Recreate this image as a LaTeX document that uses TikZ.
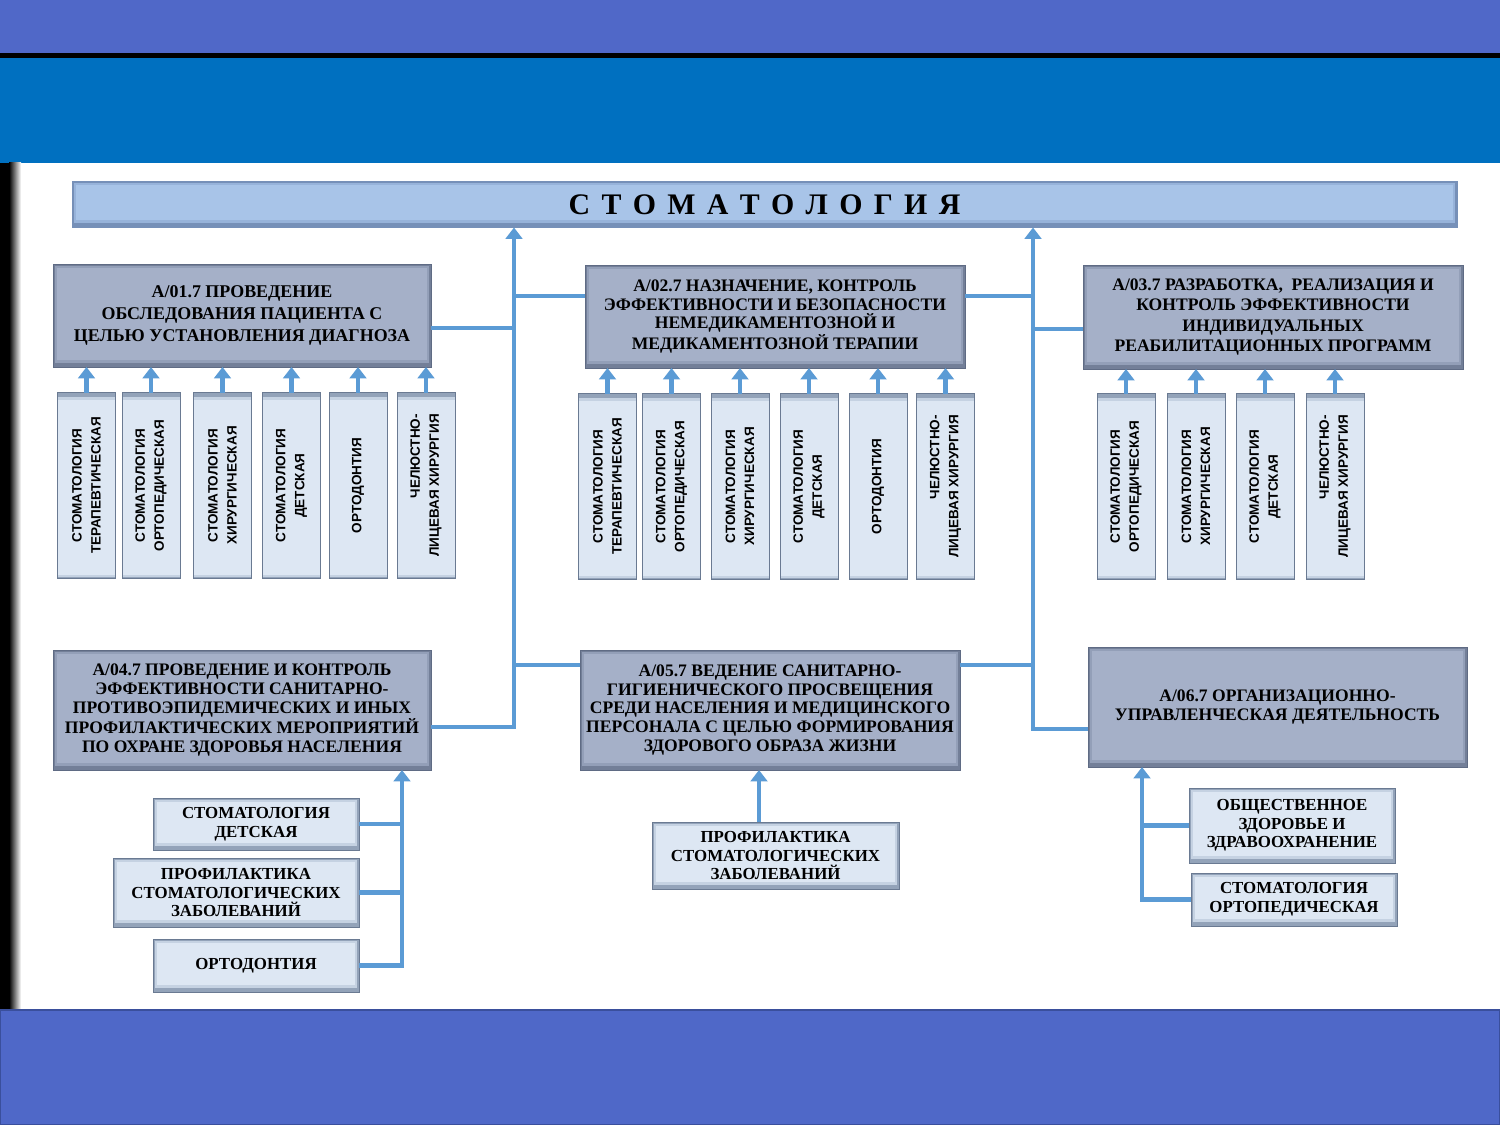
\documentclass[tikz,border=0pt]{standalone}
\usepackage{fontspec}
\setmainfont{Liberation Serif}
\newfontfamily\vsans{Liberation Sans}
\usetikzlibrary{arrows.meta,calc}
\definecolor{topband}{HTML}{5068C8}
\definecolor{blueband}{HTML}{0070C0}
\definecolor{botband}{HTML}{4F68C8}
\definecolor{botedge}{HTML}{3A4F9C}
\definecolor{connc}{HTML}{5B9BD5}
\definecolor{pmain}{HTML}{A5B0C8}
\definecolor{pmid}{HTML}{939FB8}
\definecolor{pout}{HTML}{737F98}
\definecolor{pedge}{HTML}{5F6B84}
\definecolor{cmain}{HTML}{DDE7F3}
\definecolor{cmid}{HTML}{C5D2E2}
\definecolor{cout}{HTML}{93A3B9}
\definecolor{cedge}{HTML}{6A7A92}
\definecolor{tmain}{HTML}{A8C4E8}
\definecolor{tmid}{HTML}{97B3DA}
\definecolor{tout}{HTML}{7690B8}
\newcommand\mybevel[3]{%
  \fill[#1] (path picture bounding box.south west) rectangle (path picture bounding box.north east);
  \fill[#2] ([shift={(1pt,2.5pt)}]path picture bounding box.south west) rectangle ([shift={(-1pt,-1pt)}]path picture bounding box.north east);
  \fill[#3] ([shift={(2.2pt,4.2pt)}]path picture bounding box.south west) rectangle ([shift={(-2.2pt,-2.2pt)}]path picture bounding box.north east);
}
\newcommand\mybevelv[3]{%
  \fill[#1] (path picture bounding box.south west) rectangle (path picture bounding box.north east);
  \fill[#2] ([shift={(1pt,1pt)}]path picture bounding box.south west) rectangle ([shift={(-2.5pt,-1pt)}]path picture bounding box.north east);
  \fill[#3] ([shift={(2.2pt,2.2pt)}]path picture bounding box.south west) rectangle ([shift={(-4.2pt,-2.2pt)}]path picture bounding box.north east);
}
\newcommand\ls{\hspace{0.38em}}
\begin{document}
\begin{tikzpicture}[x=0.02cm,y=-0.02cm,
  conn/.style={draw=connc, line width=2.7pt},
  arr/.style={conn, -{Triangle[width=9.5pt,length=6.5pt]}},
  sz/.style 2 args={minimum width=#1*0.02cm, minimum height=#2*0.02cm},
  pbox/.style={inner sep=0pt, outer sep=0pt, draw=pedge, line width=0.5pt, align=center,
    font=\bfseries\fontsize{10}{10.6}\selectfont, path picture={\mybevel{pout}{pmid}{pmain}}},
  cbox/.style={inner sep=0pt, outer sep=0pt, draw=cedge, line width=0.5pt, align=center,
    font=\bfseries\fontsize{9.6}{10.6}\selectfont, path picture={\mybevel{cout}{cmid}{cmain}}},
  vbox/.style={inner sep=0pt, outer sep=0pt, draw=cedge, line width=0.5pt, align=center,
    rotate=90, sz={186}{58},
    font=\vsans\bfseries\fontsize{7.7}{10.8}\selectfont, path picture={\mybevelv{cout}{cmid}{cmain}}},
  tbar/.style={inner sep=0pt, outer sep=0pt, draw=tout, line width=0.5pt,
    font=\bfseries\fontsize{17}{20}\selectfont, path picture={\mybevel{tout}{tmid}{tmain}}}
]
\useasboundingbox (0,0) rectangle (1500,1125);
\fill[white] (0,0) rectangle (1500,1125);
% bands
\fill[topband] (0,0) rectangle (1500,54);
\fill[black] (0,53) rectangle (1500,58);
\fill[blueband] (0,58) rectangle (1500,163);
\fill[black] (0,163) rectangle (9,1010);
\shade[left color=black,right color=white] (9,163) rectangle (21,1010);
\fill[botband, draw=botedge, line width=1.5pt] (0,1010) rectangle (1500,1125);

% title
\node[tbar, sz={1385}{46}] (title) at (764.5,204.5) {С\ls Т\ls О\ls М\ls А\ls Т\ls О\ls Л\ls О\ls Г\ls И\ls Я};

% main boxes
\node[pbox, sz={378}{103}, font=\bfseries\fontsize{10.2}{12.5}\selectfont] (a1) at (242,315.5)
  {A/01.7 ПРОВЕДЕНИЕ\\ОБСЛЕДОВАНИЯ ПАЦИЕНТА С\\ЦЕЛЬЮ УСТАНОВЛЕНИЯ ДИАГНОЗА};
\node[pbox, sz={380}{103}] (a2) at (775,316.5)
  {A/02.7 НАЗНАЧЕНИЕ, КОНТРОЛЬ\\ЭФФЕКТИВНОСТИ И БЕЗОПАСНОСТИ\\НЕМЕДИКАМЕНТОЗНОЙ И\\МЕДИКАМЕНТОЗНОЙ ТЕРАПИИ};
\node[pbox, sz={380}{104}, font=\bfseries\fontsize{10}{11.5}\selectfont] (a3) at (1273,317)
  {A/03.7 РАЗРАБОТКА,\ \ РЕАЛИЗАЦИЯ И\\КОНТРОЛЬ ЭФФЕКТИВНОСТИ\\ИНДИВИДУАЛЬНЫХ\\РЕАБИЛИТАЦИОННЫХ ПРОГРАММ};
\node[pbox, sz={378}{120}] (a4) at (242,710)
  {A/04.7 ПРОВЕДЕНИЕ И КОНТРОЛЬ\\ЭФФЕКТИВНОСТИ САНИТАРНО-\\ПРОТИВОЭПИДЕМИЧЕСКИХ И ИНЫХ\\ПРОФИЛАКТИЧЕСКИХ МЕРОПРИЯТИЙ\\ПО ОХРАНЕ ЗДОРОВЬЯ НАСЕЛЕНИЯ};
\node[pbox, sz={380}{120}] (a5) at (770,710)
  {A/05.7 ВЕДЕНИЕ САНИТАРНО-\\ГИГИЕНИЧЕСКОГО ПРОСВЕЩЕНИЯ\\СРЕДИ НАСЕЛЕНИЯ И МЕДИЦИНСКОГО\\ПЕРСОНАЛА С ЦЕЛЬЮ ФОРМИРОВАНИЯ\\ЗДОРОВОГО ОБРАЗА ЖИЗНИ};
\node[pbox, sz={379}{120}] (a6) at (1277.5,707)
  {A/06.7 ОРГАНИЗАЦИОННО-\\УПРАВЛЕНЧЕСКАЯ ДЕЯТЕЛЬНОСТЬ};

% vertical children of A/01.7
\node[vbox] (c11) at (86.5,485.5) {СТОМАТОЛОГИЯ\\ТЕРАПЕВТИЧЕСКАЯ};
\node[vbox] (c12) at (151,485.5) {СТОМАТОЛОГИЯ\\ОРТОПЕДИЧЕСКАЯ};
\node[vbox] (c13) at (222.5,485.5) {СТОМАТОЛОГИЯ\\ХИРУРГИЧЕСКАЯ};
\node[vbox] (c14) at (291.5,485.5) {СТОМАТОЛОГИЯ\\ДЕТСКАЯ};
\node[vbox] (c15) at (358,485.5) {ОРТОДОНТИЯ};
\node[vbox, align=right] (c16) at (426,485.5) {ЧЕЛЮСТНО-\\ЛИЦЕВАЯ ХИРУРГИЯ};
\foreach \c in {c11,c12,c13,c14,c15,c16}
  \draw[arr] (\c.east) -- (\c.east |- a1.south);

% vertical children of A/02.7
\node[vbox] (c21) at (607.5,486.5) {СТОМАТОЛОГИЯ\\ТЕРАПЕВТИЧЕСКАЯ};
\node[vbox] (c22) at (671.5,486.5) {СТОМАТОЛОГИЯ\\ОРТОПЕДИЧЕСКАЯ};
\node[vbox] (c23) at (740,486.5) {СТОМАТОЛОГИЯ\\ХИРУРГИЧЕСКАЯ};
\node[vbox] (c24) at (809,486.5) {СТОМАТОЛОГИЯ\\ДЕТСКАЯ};
\node[vbox] (c25) at (878,486.5) {ОРТОДОНТИЯ};
\node[vbox, align=right] (c26) at (945.5,486.5) {ЧЕЛЮСТНО-\\ЛИЦЕВАЯ ХИРУРГИЯ};
\foreach \c in {c21,c22,c23,c24,c25,c26}
  \draw[arr] (\c.east) -- (\c.east |- a2.south);

% vertical children of A/03.7
\node[vbox] (c31) at (1126,486.5) {СТОМАТОЛОГИЯ\\ОРТОПЕДИЧЕСКАЯ};
\node[vbox] (c32) at (1196,486.5) {СТОМАТОЛОГИЯ\\ХИРУРГИЧЕСКАЯ};
\node[vbox] (c33) at (1265,486.5) {СТОМАТОЛОГИЯ\\ДЕТСКАЯ};
\node[vbox, align=right] (c34) at (1335,486.5) {ЧЕЛЮСТНО-\\ЛИЦЕВАЯ ХИРУРГИЯ};
\foreach \c in {c31,c32,c33,c34}
  \draw[arr] (\c.east) -- (\c.east |- a3.south);

% children of A/04.7
\node[cbox, sz={206}{52}] (d1) at (256,824) {СТОМАТОЛОГИЯ\\ДЕТСКАЯ};
\node[cbox, sz={246}{69}] (d2) at (236,892.5) {ПРОФИЛАКТИКА\\СТОМАТОЛОГИЧЕСКИХ\\ЗАБОЛЕВАНИЙ};
\node[cbox, sz={206}{53}] (d3) at (256,965.5) {ОРТОДОНТИЯ};
\coordinate (v4) at (402,800);
\draw[arr] (d3.east) -- (d3.east -| v4) -- (v4 |- a4.south);
\draw[conn] (d1.east) -- (d1.east -| v4);
\draw[conn] (d2.east) -- (d2.east -| v4);

% child of A/05.7
\node[cbox, sz={247}{67}] (e1) at (775.5,855.5) {ПРОФИЛАКТИКА\\СТОМАТОЛОГИЧЕСКИХ\\ЗАБОЛЕВАНИЙ};
\coordinate (v5) at (759,800);
\draw[arr] (e1.north -| v5) -- (v5 |- a5.south);

% children of A/06.7
\node[cbox, sz={206}{75}] (f1) at (1292,825.5) {ОБЩЕСТВЕННОЕ\\ЗДОРОВЬЕ И\\ЗДРАВООХРАНЕНИЕ};
\node[cbox, sz={206}{53}] (f2) at (1294,899.5) {СТОМАТОЛОГИЯ\\ОРТОПЕДИЧЕСКАЯ};
\coordinate (v6) at (1142,800);
\draw[arr] (f2.west) -- (f2.west -| v6) -- (v6 |- a6.south);
\draw[conn] (f1.west) -- (f1.west -| v6);

% left trunk
\coordinate (j1) at (514,328);
\coordinate (j2) at (514,296);
\coordinate (j4) at (514,727);
\coordinate (j5) at (514,665);
\draw[arr] (j4 -| a4.east) -- (j4) -- (j4 |- title.south);
\draw[conn] (j1 -| a1.east) -- (j1);
\draw[conn] (j2) -- (j2 -| a2.west);
\draw[conn] (j5) -- (j5 -| a5.west);

% right trunk
\coordinate (k2) at (1033,296);
\coordinate (k3) at (1033,329);
\coordinate (k5) at (1033,665);
\coordinate (k6) at (1033,729);
\draw[arr] (k6 -| a6.west) -- (k6) -- (k6 |- title.south);
\draw[conn] (k2 -| a2.east) -- (k2);
\draw[conn] (k3) -- (k3 -| a3.west);
\draw[conn] (k5 -| a5.east) -- (k5);
\end{tikzpicture}
\end{document}
